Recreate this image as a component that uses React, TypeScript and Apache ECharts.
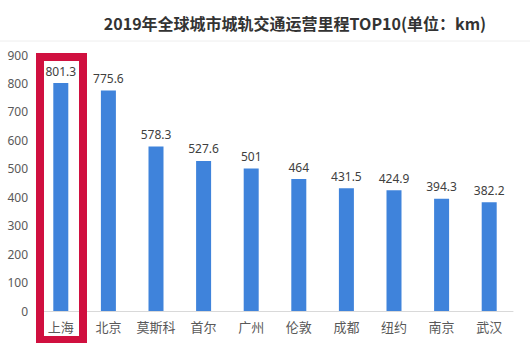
import React, { useEffect, useRef } from "react";
import * as echarts from "echarts";

const categories = ["上海", "北京", "莫斯科", "首尔", "广州", "伦敦", "成都", "纽约", "南京", "武汉"];
const values = [801.3, 775.6, 578.3, 527.6, 501, 464, 431.5, 424.9, 394.3, 382.2];
const titleText = "2019年全球城市城轨交通运营里程TOP10(单位：km)";

export default function App() {
  const ref = useRef<HTMLDivElement>(null);
  useEffect(() => {
    const chart = echarts.init(ref.current!, null, { renderer: "svg" });
    chart.setOption({
      animation: false,
      backgroundColor: "#ffffff",
      title: {
        text: titleText,
        left: 290,
        textAlign: "center",
        top: 10,
        textStyle: { fontSize: 16, fontWeight: "bold", color: "#333333", fontFamily: "Noto Sans CJK SC, sans-serif" },
      },
      grid: { left: 37, right: 17, top: 55, bottom: 32 },
      xAxis: {
        type: "category",
        data: categories,
        axisLine: { lineStyle: { color: "#d9d9d9" } },
        axisTick: { show: false },
        axisLabel: { color: "#595959", fontSize: 13, margin: 9, interval: 0, fontFamily: "Noto Sans CJK SC, sans-serif" },
      },
      yAxis: {
        type: "value",
        min: 0,
        max: 900,
        interval: 100,
        axisLine: { show: false },
        axisTick: { show: false },
        splitLine: { show: false },
        axisLabel: { color: "#595959", fontSize: 12, margin: 9, fontFamily: "Noto Sans, sans-serif" },
      },
      series: [
        {
          type: "bar",
          data: values,
          barWidth: 15,
          itemStyle: { color: "#3f83db" },
          label: {
            show: true,
            position: "top",
            distance: 6,
            color: "#404040",
            fontSize: 12,
            fontFamily: "Noto Sans, sans-serif",
          },
        },
      ],
      graphic: [
        {
          type: "line",
          shape: { x1: 0, y1: 41, x2: 530, y2: 41 },
          style: { stroke: "#eeeeee", lineWidth: 1 },
          silent: true,
        },
        {
          type: "rect",
          shape: { x: 40, y: 57, width: 43, height: 283 },
          style: { fill: "none", stroke: "#d0103f", lineWidth: 8 },
          z: 100,
          silent: true,
        },
      ],
    });
    return () => chart.dispose();
  }, []);
  return <div ref={ref} style={{ width: 530, height: 343, position: "fixed", left: 0, top: 0 }} />;
}
